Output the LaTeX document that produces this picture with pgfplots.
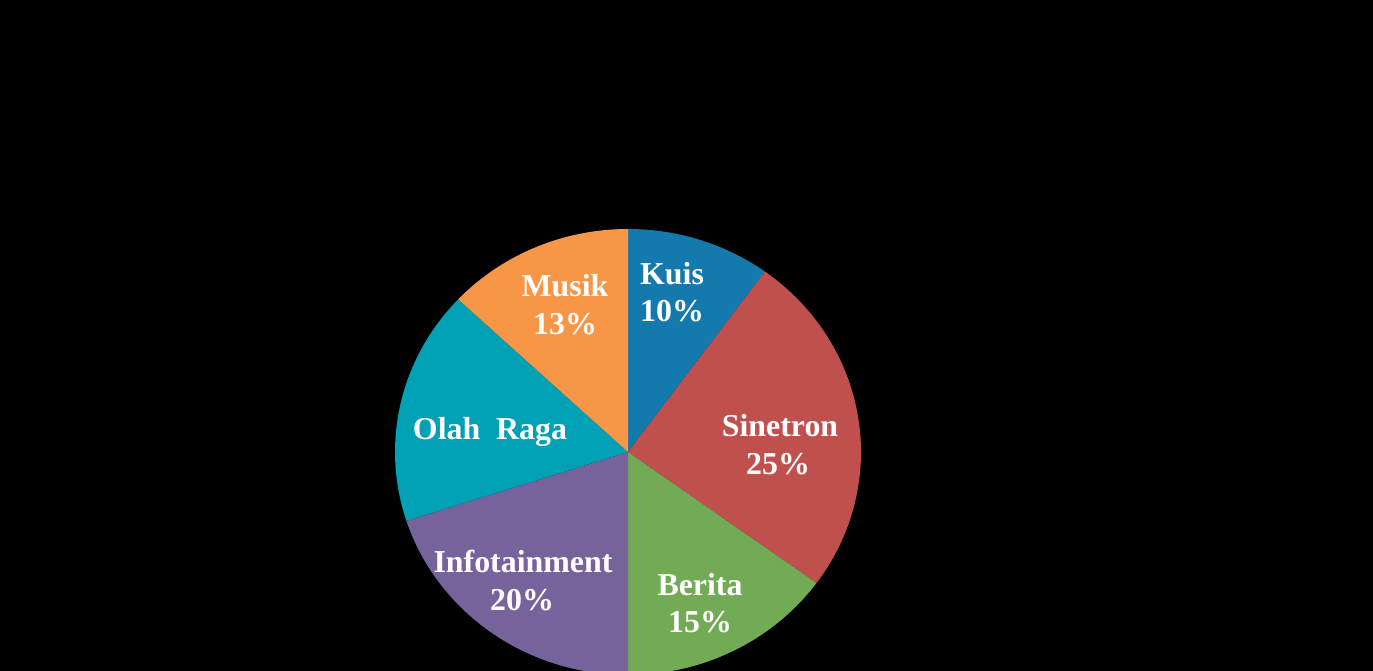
\documentclass[border=0pt]{standalone}
\usepackage{pgfplots}
\pgfplotsset{compat=1.18}
\usepackage{fontspec}
\setmainfont{Liberation Serif}

\definecolor{kuis}{RGB}{20,121,173}
\definecolor{sinetron}{RGB}{192,80,77}
\definecolor{berita}{RGB}{114,170,86}
\definecolor{infot}{RGB}{119,99,155}
\definecolor{olah}{RGB}{0,160,181}
\definecolor{musik}{RGB}{247,150,70}

\tikzset{lbl/.style={text=white, anchor=base, inner sep=0pt,
    font=\fontsize{32}{37}\selectfont\bfseries}}

% pie centre and radii (in axis units)
\def\cx{628}\def\cy{219}\def\rx{233}\def\ry{223}

% #1 = share already drawn (percent), #2 = share of this slice (percent), #3 = colour
\newcommand\pieslice[3]{%
  \pgfmathsetmacro\sa{90-3.6*(#1+#2)}%
  \pgfmathsetmacro\sb{90-3.6*(#1)}%
  \edef\doslice{\noexpand\addplot[fill=#3, draw=none, domain=\sa:\sb, samples=120, variable=\noexpand\t]
    ({\cx+\rx*cos(\noexpand\t)},{\cy+\ry*sin(\noexpand\t)}) -- (axis cs:\cx,\cy) -- cycle;}%
  \doslice
}

\begin{document}
\begin{tikzpicture}
\begin{axis}[
  scale only axis,
  width=1373bp, height=671bp,
  xmin=0, xmax=1373, ymin=0, ymax=671,
  axis line style={draw=none},
  ticks=none,
  axis background/.style={fill=black},
  clip=true,
]
% shares: Kuis 10, Sinetron 25, Berita 15, Infotainment 20, Olah Raga 17, Musik 13
\pieslice{0}{10}{kuis}
\pieslice{10}{25}{sinetron}
\pieslice{35}{15}{berita}
\pieslice{50}{20}{infot}
\pieslice{70}{17}{olah}
\pieslice{87}{13}{musik}

\node[lbl] at (axis cs:672,386) {Kuis};
\node[lbl] at (axis cs:672,349) {10\%};
\node[lbl] at (axis cs:780,234) {Sinetron};
\node[lbl] at (axis cs:778,196) {25\%};
\node[lbl] at (axis cs:700,75) {Berita};
\node[lbl] at (axis cs:700,38) {15\%};
\node[lbl] at (axis cs:523,98) {Infotainment};
\node[lbl] at (axis cs:522,60) {20\%};
\node[lbl] at (axis cs:490,231) {Olah\hspace{0.5em}Raga};
\node[lbl] at (axis cs:565,374) {Musik};
\node[lbl] at (axis cs:565,336) {13\%};
\end{axis}
\end{tikzpicture}
\end{document}
